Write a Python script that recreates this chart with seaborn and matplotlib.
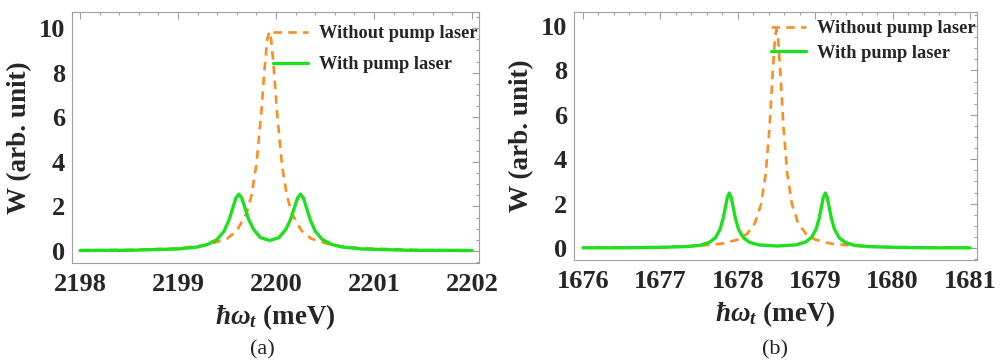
import matplotlib
matplotlib.use("Agg")
import matplotlib.pyplot as plt
import seaborn as sns
import pandas as pd
from matplotlib.ticker import MultipleLocator

# ---------------- data ----------------
# panel (a)
a_nopump_x = [2198.0, 2198.5, 2199.0, 2199.3, 2199.5, 2199.6, 2199.7, 2199.75, 2199.8, 2199.85,
              2199.88, 2199.91, 2199.93, 2199.95, 2199.98, 2200.01, 2200.06, 2200.11, 2200.16,
              2200.26, 2200.36, 2200.56, 2200.86, 2201.5, 2202.0]
a_nopump_y = [0.03, 0.05, 0.12, 0.27, 0.55, 0.91, 1.70, 2.50, 3.89, 6.23,
              8.03, 9.50, 9.85, 9.50, 8.03, 6.23, 3.89, 2.50, 1.70,
              0.91, 0.55, 0.27, 0.12, 0.04, 0.03]
a_pump_x = [2198.0, 2198.5, 2199.0, 2199.2, 2199.3, 2199.4, 2199.47, 2199.52, 2199.56, 2199.59,
            2199.62, 2199.65, 2199.68, 2199.72, 2199.77, 2199.84, 2199.935, 2200.03, 2200.10,
            2200.15, 2200.19, 2200.22, 2200.25, 2200.28, 2200.31, 2200.35, 2200.40, 2200.47,
            2200.57, 2200.67, 2200.87, 2201.37, 2201.87, 2202.0]
a_pump_y = [0.02, 0.03, 0.09, 0.18, 0.29, 0.52, 0.89, 1.39, 1.95, 2.37,
            2.55, 2.38, 1.98, 1.43, 0.97, 0.60, 0.47, 0.60, 0.97,
            1.43, 1.98, 2.38, 2.55, 2.37, 1.95, 1.39, 0.89, 0.52,
            0.29, 0.18, 0.09, 0.03, 0.02, 0.02]

# panel (b)
b_nopump_x = [1676.0, 1677.0, 1677.5, 1677.8, 1678.0, 1678.12, 1678.22, 1678.3, 1678.36, 1678.41,
              1678.45, 1678.48, 1678.5, 1678.52, 1678.55, 1678.59, 1678.64, 1678.7, 1678.78,
              1678.88, 1679.0, 1679.2, 1679.5, 1680.0, 1681.0]
b_nopump_y = [0.02, 0.04, 0.10, 0.20, 0.38, 0.64, 1.11, 1.97, 3.33, 5.44,
              7.88, 9.47, 9.85, 9.47, 7.88, 5.44, 3.33, 1.97, 1.11,
              0.64, 0.38, 0.20, 0.10, 0.04, 0.02]
b_pump_x = [1676.0, 1676.5, 1677.0, 1677.3, 1677.51, 1677.63, 1677.71, 1677.77, 1677.81, 1677.84,
            1677.865, 1677.89, 1677.915, 1677.94, 1677.97, 1678.01, 1678.07, 1678.15, 1678.27,
            1678.51, 1678.75, 1678.87, 1678.95, 1679.01, 1679.05, 1679.08, 1679.105, 1679.13,
            1679.155, 1679.18, 1679.21, 1679.25, 1679.31, 1679.39, 1679.51, 1679.72, 1680.02,
            1680.52, 1681.0]
b_pump_y = [0.01, 0.01, 0.03, 0.06, 0.12, 0.25, 0.46, 0.84, 1.32, 1.85,
            2.28, 2.48, 2.28, 1.85, 1.32, 0.84, 0.47, 0.26, 0.14,
            0.09, 0.14, 0.26, 0.47, 0.84, 1.32, 1.85, 2.28, 2.48,
            2.28, 1.85, 1.32, 0.84, 0.46, 0.25, 0.12, 0.06, 0.03,
            0.01, 0.01]

a_xticks = [2198, 2199, 2200, 2201, 2202]
b_xticks = [1676, 1677, 1678, 1679, 1680, 1681]
yticks = [0, 2, 4, 6, 8, 10]
label_nopump = "Without pump laser"
label_pump = "With pump laser"
ylabel = "W (arb. unit)"
xlabel = r"$\hbar\omega_t$ (meV)"
captions = ["(a)", "(b)"]

# ---------------- style ----------------
sns.set_theme(style="white")
plt.rcParams["font.family"] = ["Liberation Serif", "DejaVu Serif"]
plt.rcParams["mathtext.fontset"] = "custom"
plt.rcParams["mathtext.rm"] = "Liberation Serif:bold"
plt.rcParams["mathtext.it"] = "Liberation Serif:italic:bold"
plt.rcParams["mathtext.bf"] = "Liberation Serif:bold"

ORANGE = "#ff8c1e"
GREEN = "#1ee01e"
FRAME = "#a0a0a0"

fig = plt.figure(figsize=(10, 3.63), dpi=100)
ax_a = fig.add_axes([0.072, 0.2755, 0.407, 0.691])
ax_b = fig.add_axes([0.574, 0.2837, 0.403, 0.683])

panels = [
    (ax_a, a_nopump_x, a_nopump_y, a_pump_x, a_pump_y, a_xticks, (2197.918, 2202.071), (-0.54, 10.72), 0.955, 0.75, 0.262),
    (ax_b, b_nopump_x, b_nopump_y, b_pump_x, b_pump_y, b_xticks, (1675.884, 1681.09), (-0.54, 10.63), 0.975, 0.42, 0.775),
]

for i, (ax, nx, ny, px, py, xt, xl, yl, legy, lsp, capx) in enumerate(panels):
    df1 = pd.DataFrame({"x": nx, "y": ny})
    df2 = pd.DataFrame({"x": px, "y": py})
    sns.lineplot(data=df1, x="x", y="y", ax=ax, color=ORANGE, lw=1.9,
                 linestyle=(0, (3.2, 2.4)), label=label_nopump)
    sns.lineplot(data=df2, x="x", y="y", ax=ax, color=GREEN, lw=2.4,
                 label=label_pump)
    ax.set_xlim(*xl)
    ax.set_ylim(*yl)
    ax.set_xticks(xt)
    ax.set_yticks(yticks)
    ax.xaxis.set_minor_locator(MultipleLocator(0.2))
    ax.yaxis.set_minor_locator(MultipleLocator(0.5))
    ax.tick_params(which="both", direction="in", top=True, right=True,
                   color=FRAME, width=0.8)
    ax.tick_params(which="major", length=5, labelsize=19)
    ax.tick_params(axis="x", which="major", pad=7)
    ax.tick_params(axis="y", which="major", pad=5)
    ax.tick_params(which="minor", length=2.5)
    for lab in ax.get_xticklabels() + ax.get_yticklabels():
        lab.set_fontweight("bold")
    for sp in ax.spines.values():
        sp.set_color(FRAME)
        sp.set_linewidth(0.8)
    ax.set_xlabel(xlabel, fontsize=19.5, fontweight="bold", labelpad=5)
    ax.set_ylabel(ylabel, fontsize=19.5, fontweight="bold", labelpad=5)
    ax.legend(loc="upper right", bbox_to_anchor=(1.0, legy), frameon=False,
              prop={"family": "Liberation Serif", "weight": "bold", "size": 13.2},
              handlelength=1.9, handletextpad=0.6, labelspacing=lsp,
              borderaxespad=0.0, borderpad=0.1)
    fig.text(capx, 0.036, captions[i],
             ha="center", va="center", fontsize=16, family="Liberation Serif",
             fontweight="normal", color="#222222")

fig.savefig("out.png", dpi=100)
